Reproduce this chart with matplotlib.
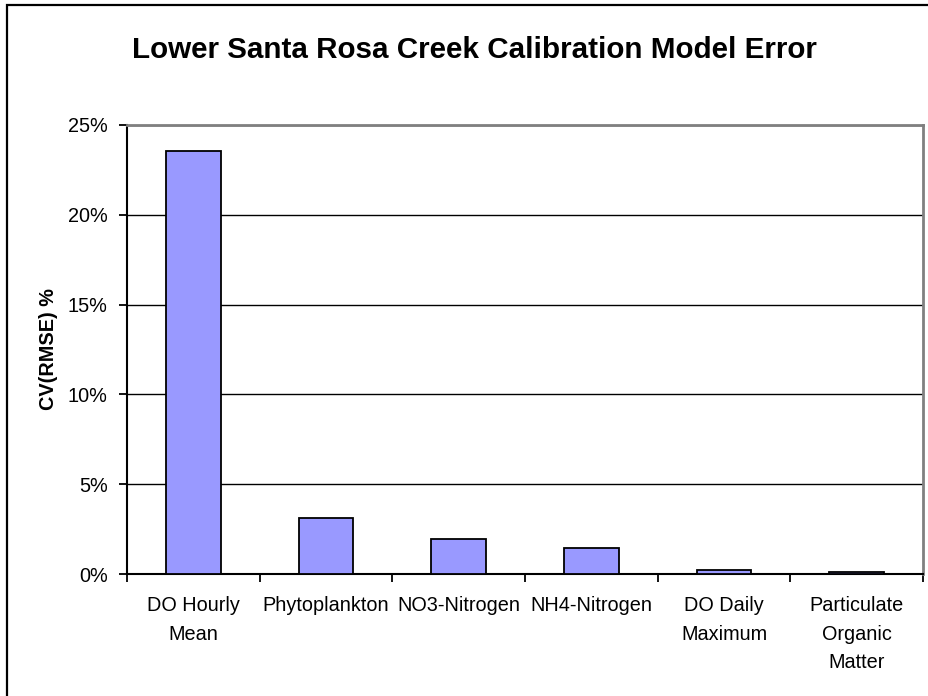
import numpy as np
import matplotlib
matplotlib.use("Agg")
from matplotlib import pyplot as plt
from matplotlib.patches import Rectangle
from matplotlib.ticker import PercentFormatter

categories = ["DO Hourly\nMean", "Phytoplankton", "NO3-Nitrogen", "NH4-Nitrogen",
              "DO Daily\nMaximum", "Particulate\nOrganic\nMatter"]
cv_rmse = [23.55, 3.12, 1.95, 1.45, 0.22, 0.10]
y_ticks = [0, 5, 10, 15, 20, 25]

plt.rcParams['font.family'] = ['Liberation Sans', 'DejaVu Sans']

W, H = 929, 696
fig = plt.figure(figsize=(W / 100, H / 100), dpi=100)
ax = fig.add_axes([127 / W, 1 - 574 / H, (923 - 127) / W, (574 - 125) / H])

x = np.arange(len(categories))
ax.bar(x, cv_rmse, width=0.41, color='#9999FF', edgecolor='black', linewidth=1.3, zorder=3)

ax.set_xlim(-0.5, len(categories) - 0.5)
ax.set_ylim(0, 25)
ax.set_yticks(y_ticks)
ax.yaxis.set_major_formatter(PercentFormatter(decimals=0))
ax.yaxis.grid(True, color='black', linewidth=1.0, zorder=0)

# category ticks sit between the bars
ax.set_xticks(np.arange(-0.5, len(categories)), minor=False)
ax.set_xticklabels([])
ax.set_xticks(x, minor=True)
ax.set_xticklabels(categories, minor=True, fontsize=14.3, linespacing=1.62, va='top')
ax.tick_params(axis='x', which='minor', length=0, pad=16)
ax.tick_params(axis='x', which='major', length=6, width=1.3, direction='out')
ax.tick_params(axis='y', length=6, width=1.3, labelsize=14.3, pad=8)

ax.set_ylabel("CV(RMSE) %", fontsize=14.3, fontweight='bold', labelpad=7)

for s in ['left', 'bottom']:
    ax.spines[s].set_color('black')
    ax.spines[s].set_linewidth(1.5)
for s in ['top', 'right']:
    ax.spines[s].set_color('#808080')
    ax.spines[s].set_linewidth(2)

fig.text(0.5 * (131 + 818) / W, 1 - 50 / H, "Lower Santa Rosa Creek Calibration Model Error",
         ha='center', va='center', fontsize=21.3, fontweight='bold')

# outer chart border (only left and top edges lie inside the image)
fig.patches.append(Rectangle((7 / W, -0.5), 2, 0.5 + 1 - 5 / H, transform=fig.transFigure,
                             fill=False, edgecolor='black', linewidth=1.6))

fig.savefig("out.png", dpi=100)
